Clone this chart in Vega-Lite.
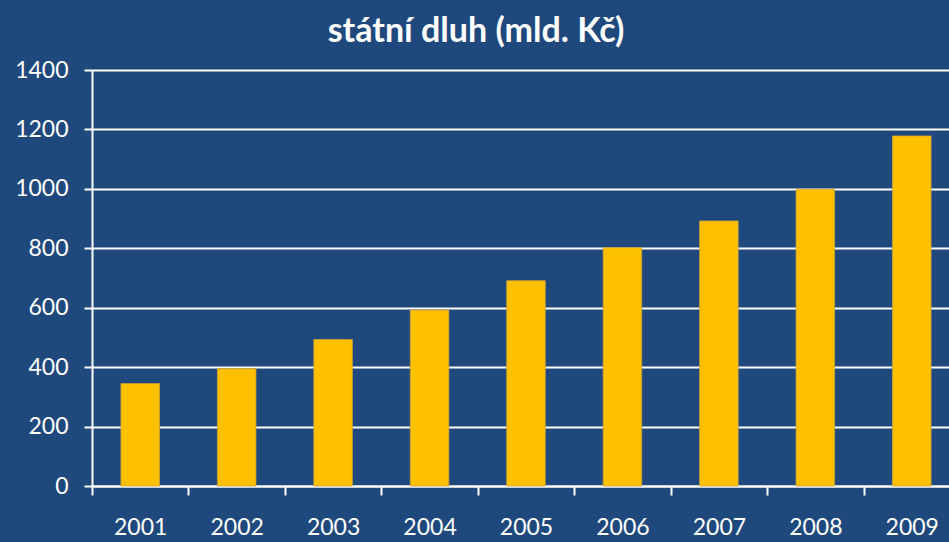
{
  "$schema": "https://vega.github.io/schema/vega-lite/v6.json",
  "width": 868,
  "height": 416,
  "autosize": {"type": "none"},
  "padding": {"left": 92, "top": 70, "right": 0, "bottom": 56},
  "background": "#1F497D",
  "title": {
    "text": "státní dluh (mld. Kč)",
    "font": "Lato",
    "fontSize": 34,
    "fontWeight": "bold",
    "color": "white",
    "anchor": "middle",
    "frame": "group",
    "dx": -50,
    "offset": 10
  },
  "data": {
    "values": [
      {"rok": "2001", "dluh": 345},
      {"rok": "2002", "dluh": 395},
      {"rok": "2003", "dluh": 493},
      {"rok": "2004", "dluh": 592},
      {"rok": "2005", "dluh": 691},
      {"rok": "2006", "dluh": 802},
      {"rok": "2007", "dluh": 892},
      {"rok": "2008", "dluh": 999},
      {"rok": "2009", "dluh": 1178}
    ]
  },
  "mark": {"type": "bar", "color": "#FFC000", "stroke": "#C9A03A", "strokeWidth": 0.8, "width": {"band": 0.4}},
  "encoding": {
    "x": {
      "field": "rok",
      "type": "ordinal",
      "scale": {"paddingInner": 0, "paddingOuter": 0},
      "axis": {
        "title": null,
        "labelAngle": 0,
        "labelFont": "Lato",
        "labelFontSize": 23,
        "labelColor": "white",
        "labelPadding": 21,
        "domainColor": "white",
        "domainWidth": 2,
        "tickColor": "white",
        "tickWidth": 2,
        "tickSize": 9,
        "tickBand": "extent",
        "grid": false
      }
    },
    "y": {
      "field": "dluh",
      "type": "quantitative",
      "scale": {"domain": [0, 1400], "nice": false},
      "axis": {
        "title": null,
        "format": "d",
        "values": [0, 200, 400, 600, 800, 1000, 1200, 1400],
        "labelFont": "Lato",
        "labelFontSize": 23,
        "labelColor": "white",
        "labelPadding": 16,
        "domainColor": "white",
        "domainWidth": 2,
        "tickColor": "white",
        "tickWidth": 2,
        "tickSize": 8,
        "gridColor": "white",
        "gridWidth": 2,
        "gridOpacity": 1
      }
    }
  },
  "config": {"view": {"stroke": null}}
}
